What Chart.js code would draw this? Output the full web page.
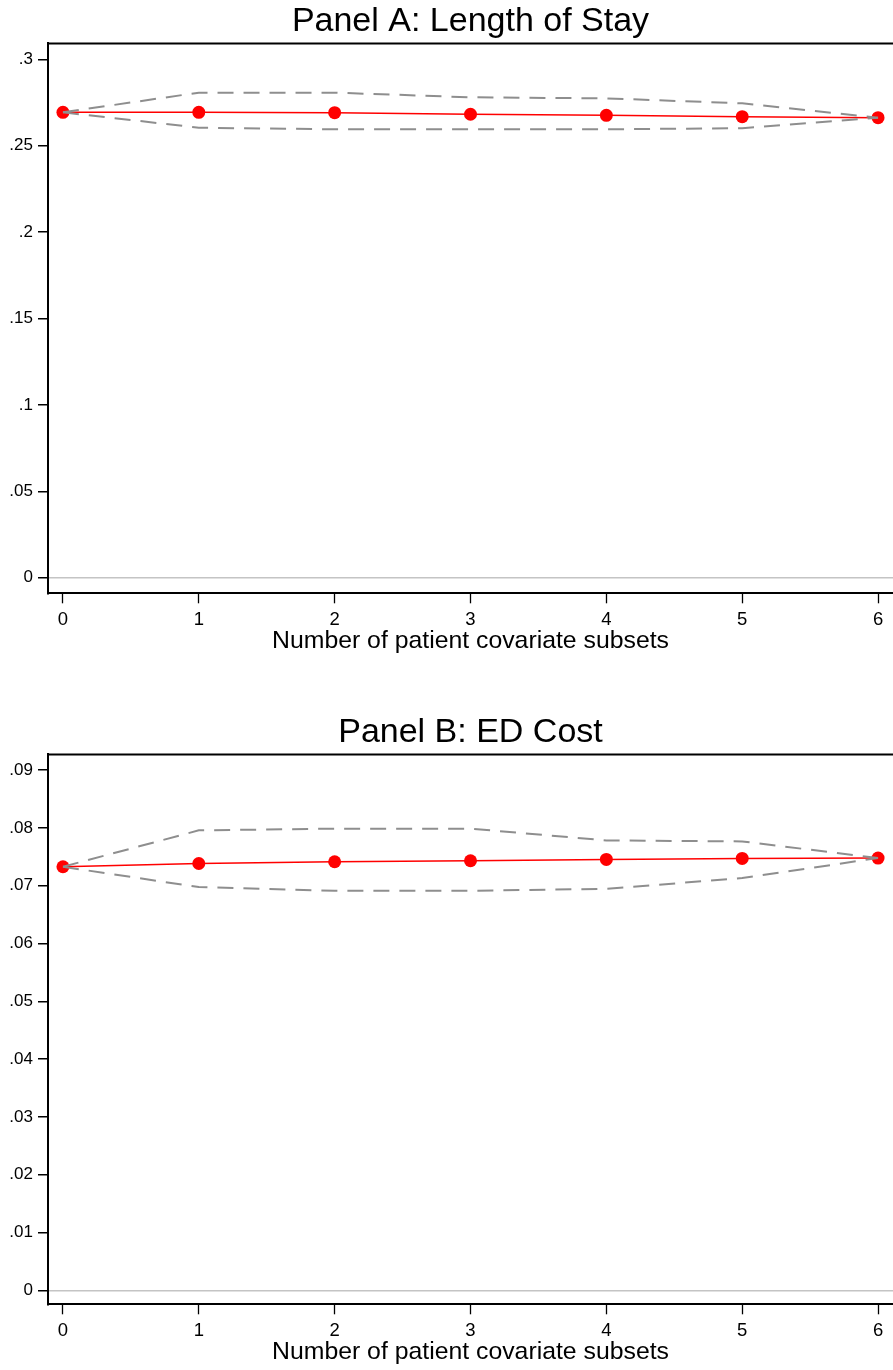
<!DOCTYPE html>
<html>
<head>
<meta charset="utf-8">
<script src="https://cdn.jsdelivr.net/npm/chart.js@4.4.1/dist/chart.umd.min.js"></script>
<style>
  html, body { margin: 0; padding: 0; background: #ffffff; }
  body { width: 893px; height: 1370px; position: relative; overflow: hidden; }
  canvas { position: absolute; left: 0; }
  #panelA { top: 0; }
  #panelB { top: 711px; }
</style>
</head>
<body>
<canvas id="panelA" width="893" height="659"></canvas>
<canvas id="panelB" width="893" height="659"></canvas>
<script>
// Number of patient covariate subsets on the horizontal axis
const subsets = [0, 1, 2, 3, 4, 5, 6];

// Panel A: Length of Stay — point estimates and confidence bounds
const losEstimate = [0.2693, 0.2693, 0.2691, 0.2682, 0.2676, 0.2668, 0.2662];
const losUpper    = [0.2693, 0.2807, 0.2807, 0.2780, 0.2774, 0.2745, 0.2662];
const losLower    = [0.2693, 0.2604, 0.2595, 0.2595, 0.2595, 0.2601, 0.2662];
const losTicks    = [0, 0.05, 0.1, 0.15, 0.2, 0.25, 0.3];

// Panel B: ED Cost — point estimates and confidence bounds
const costEstimate = [0.07329, 0.07386, 0.07416, 0.07433, 0.07456, 0.07473, 0.07480];
const costUpper    = [0.07329, 0.07959, 0.07989, 0.07989, 0.07785, 0.07768, 0.07480];
const costLower    = [0.07329, 0.06977, 0.06913, 0.06913, 0.06947, 0.07133, 0.07480];
const costTicks    = [0, 0.01, 0.02, 0.03, 0.04, 0.05, 0.06, 0.07, 0.08, 0.09];

const FONT = "'Liberation Sans', Arial, sans-serif";

// Stata-style labels: drop the leading zero (".25", ".05")
function fmt(v) {
  return String(v).replace(/^0\./, '.');
}

function toPoints(ys) {
  return subsets.map((x, i) => ({ x: x, y: ys[i] }));
}

// Top edge of the plot region frame
const frameTop = {
  id: 'frameTop',
  afterDatasetsDraw(chart) {
    const { ctx, chartArea } = chart;
    ctx.save();
    ctx.strokeStyle = '#000000';
    ctx.lineWidth = 2;
    ctx.beginPath();
    ctx.moveTo(chartArea.left - 1, chartArea.top);
    ctx.lineTo(chartArea.right, chartArea.top);
    ctx.stroke();
    ctx.restore();
  }
};

function makePanel(id, title, est, upper, lower, ticks, yMin, yMax) {
  const ciStyle = {
    borderColor: '#8e8e8e',
    borderWidth: 2,
    borderDash: [16, 10],
    pointRadius: 0,
    fill: false,
    tension: 0
  };
  return new Chart(document.getElementById(id), {
    type: 'line',
    data: {
      datasets: [
        Object.assign({ label: 'upper', data: toPoints(upper) }, ciStyle),
        Object.assign({ label: 'lower', data: toPoints(lower) }, ciStyle),
        {
          label: 'estimate',
          data: toPoints(est),
          borderColor: '#ff0000',
          borderWidth: 1.5,
          backgroundColor: '#ff0000',
          pointBackgroundColor: '#ff0000',
          pointBorderWidth: 0,
          pointRadius: 6.5,
          fill: false,
          tension: 0
        }
      ]
    },
    options: {
      responsive: false,
      animation: false,
      layout: { autoPadding: false, padding: { left: 0, right: 0, top: 0, bottom: 0 } },
      plugins: {
        legend: { display: false },
        tooltip: { enabled: false },
        title: {
          display: true,
          fullSize: false,
          text: title,
          color: '#000000',
          font: { family: FONT, size: 34, weight: 'normal', lineHeight: 1.15 },
          padding: { top: 2.4, bottom: 2 }
        }
      },
      scales: {
        x: {
          type: 'linear',
          min: -0.11,
          max: 6.11,
          afterBuildTicks(scale) {
            scale.ticks = subsets.map(v => ({ value: v }));
          },
          afterFit(scale) {
            scale.height = 65.7;
          },
          border: { display: true, color: '#000000', width: 2 },
          grid: {
            drawOnChartArea: false,
            drawTicks: true,
            tickLength: 10,
            tickColor: '#000000',
            tickWidth: 1.3
          },
          ticks: {
            color: '#000000',
            padding: 5.5,
            maxRotation: 0,
            font: { family: FONT, size: 18.5 },
            callback: v => String(v)
          },
          title: {
            display: true,
            text: 'Number of patient covariate subsets',
            color: '#000000',
            font: { family: FONT, size: 24.8, lineHeight: 1.15 },
            padding: { top: 0, bottom: 4 }
          }
        },
        y: {
          type: 'linear',
          min: yMin,
          max: yMax,
          afterBuildTicks(scale) {
            scale.ticks = ticks.map(v => ({ value: v }));
          },
          afterFit(scale) {
            scale.width = 48;
          },
          border: { display: true, color: '#000000', width: 2 },
          grid: {
            drawOnChartArea: true,
            drawTicks: true,
            tickLength: 10,
            tickColor: '#000000',
            tickWidth: 1.5,
            color: ctx => (ctx.tick && ctx.tick.value === 0) ? '#c4c4c4' : 'rgba(0,0,0,0)',
            lineWidth: 1.5
          },
          ticks: {
            color: '#000000',
            padding: 5,
            font: { family: FONT, size: 17 },
            callback: v => fmt(v)
          }
        }
      }
    },
    plugins: [frameTop]
  });
}

makePanel('panelA', 'Panel A: Length of Stay', losEstimate, losUpper, losLower, losTicks, -0.00903, 0.30914);
makePanel('panelB', 'Panel B: ED Cost', costEstimate, costUpper, costLower, costTicks, -0.00243, 0.09272);
</script>
</body>
</html>
